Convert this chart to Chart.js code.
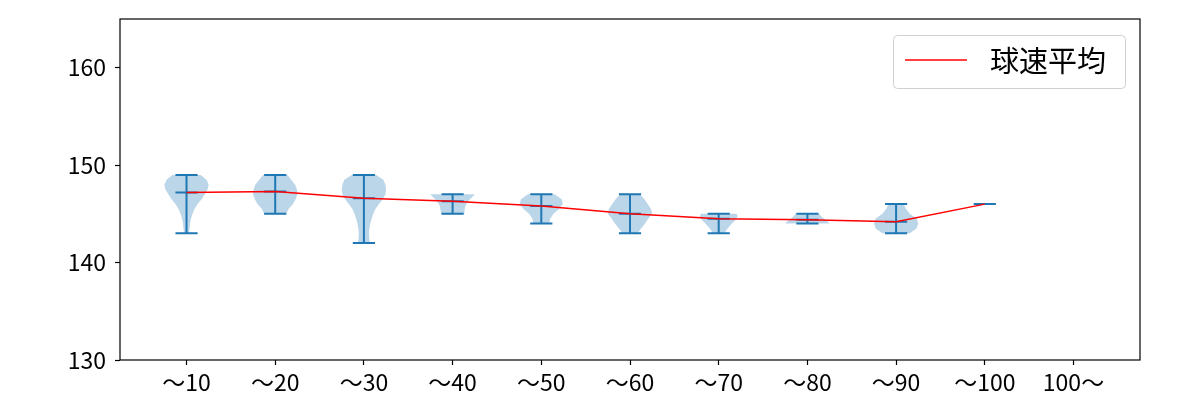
<!DOCTYPE html>
<html>
<head>
<meta charset="utf-8">
<script src="https://cdn.jsdelivr.net/npm/chart.js@4/dist/chart.umd.min.js"></script>
<style>
  body { margin: 0; background: #fff; }
</style>
</head>
<body>
<canvas id="grafico" width="1200" height="400"></canvas>
<script>
const categorias = ['〜10', '〜20', '〜30', '〜40', '〜50', '〜60', '〜70', '〜80', '〜90', '〜100', '100〜'];
const medias = [147.2, 147.3, 146.6, 146.3, 145.8, 145.0, 144.5, 144.4, 144.2, 146.0, null];
const minimos = [143, 145, 142, 145, 144, 143, 143, 144, 143, 146, null];
const maximos = [149, 149, 149, 147, 147, 147, 145, 145, 146, 146, null];
// violin widths, spread evenly from min to max (1 = widest)
const larguras = [
    [0.11, 0.14, 0.16, 0.2, 0.27, 0.36, 0.5, 0.68, 0.82, 0.95, 1.0, 0.9, 0.64],
    [0.5, 0.6, 0.8, 0.92, 1.0, 0.98, 0.9, 0.72, 0.55],
    [0.27, 0.24, 0.23, 0.25, 0.29, 0.35, 0.42, 0.52, 0.68, 0.85, 0.97, 1.0, 0.97, 0.88, 0.55],
    [0.53, 0.53, 0.55, 0.57, 0.62, 0.7, 0.78, 0.9, 1.0],
    [0.36, 0.4, 0.55, 0.8, 0.97, 0.92, 0.6],
    [0.34, 0.5, 0.68, 0.82, 1.0, 0.95, 0.8, 0.65, 0.45],
    [0.28, 0.32, 0.4, 0.5, 0.6, 0.7, 0.8, 0.85, 0.8],
    [1.0, 0.9, 0.75, 0.62, 0.53],
    [0.62, 0.92, 1.0, 0.93, 0.62, 0.45, 0.34],
    [],
    [],
];
const yTicks = [130, 140, 150, 160];
const legenda = '球速平均';

const azul = '#1f77b4';

Chart.defaults.font.family = '"Noto Sans CJK JP", "Noto Sans", sans-serif';
Chart.defaults.color = '#000';

const violinos = {
    id: 'violinos',
    beforeDatasetsDraw(chart) {
        const { ctx, scales: { x, y } } = chart;
        const meia = 0.25, cap = 0.125;
        ctx.save();
        categorias.forEach((c, i) => {
            if (minimos[i] == null) return;
            const pos = i + 1;
            const cx = x.getPixelForValue(pos);
            const w = larguras[i];
            if (w.length > 1) {
                const passo = (maximos[i] - minimos[i]) / (w.length - 1);
                const pts = w.map((f, k) => ({
                    dx: x.getPixelForValue(pos + meia * f) - cx,
                    py: y.getPixelForValue(minimos[i] + k * passo)
                }));
                ctx.beginPath();
                pts.forEach((p, k) => k ? ctx.lineTo(cx + p.dx, p.py) : ctx.moveTo(cx + p.dx, p.py));
                for (let k = pts.length - 1; k >= 0; k--) ctx.lineTo(cx - pts[k].dx, pts[k].py);
                ctx.closePath();
                ctx.fillStyle = 'rgba(31,119,180,0.3)';
                ctx.fill();
            }
            const capW = x.getPixelForValue(pos + cap) - cx;
            ctx.strokeStyle = azul;
            ctx.lineWidth = 2;
            ctx.beginPath();
            [minimos[i], maximos[i], medias[i]].forEach(v => {
                const py = y.getPixelForValue(v);
                ctx.moveTo(cx - capW, py);
                ctx.lineTo(cx + capW, py);
            });
            ctx.moveTo(cx, y.getPixelForValue(minimos[i]));
            ctx.lineTo(cx, y.getPixelForValue(maximos[i]));
            ctx.stroke();
        });
        ctx.restore();
    },
    afterDraw(chart) {
        const { ctx, chartArea: a } = chart;
        ctx.save();
        ctx.strokeStyle = '#000';
        ctx.lineWidth = 1.2;
        ctx.strokeRect(a.left, a.top, a.right - a.left, a.bottom - a.top);

        // legend box
        const bx = 893.5, by = 35.5, bw = 232, bh = 53;
        ctx.beginPath();
        ctx.roundRect(bx, by, bw, bh, 4);
        ctx.fillStyle = 'rgba(255,255,255,0.8)';
        ctx.fill();
        ctx.strokeStyle = '#d0d0d0';
        ctx.lineWidth = 1;
        ctx.stroke();
        ctx.strokeStyle = 'red';
        ctx.lineWidth = 1.5;
        ctx.beginPath();
        ctx.moveTo(905, 60);
        ctx.lineTo(967, 60);
        ctx.stroke();
        ctx.fillStyle = '#000';
        ctx.font = '29px "Noto Sans CJK JP", sans-serif';
        ctx.textBaseline = 'middle';
        ctx.fillText(legenda, 990, 61);
        ctx.restore();
    }
};

new Chart(document.getElementById('grafico'), {
    type: 'line',
    data: {
        datasets: [{
            label: legenda,
            data: medias.map((v, i) => ({ x: i + 1, y: v })).filter(p => p.y != null),
            borderColor: 'red',
            borderWidth: 1.5,
            pointRadius: 0,
            tension: 0,
        }]
    },
    options: {
        responsive: false,
        animation: false,
        layout: { padding: { left: 0, right: 60, top: 19, bottom: 0 } },
        plugins: { legend: { display: false }, tooltip: { enabled: false } },
        scales: {
            x: {
                type: 'linear',
                min: 0.25,
                max: 11.75,
                afterBuildTicks: s => { s.ticks = categorias.map((_, i) => ({ value: i + 1 })); },
                afterFit: s => { s.height = 40; s.paddingLeft = 0; s.paddingRight = 0; },
                ticks: {
                    callback: v => categorias[v - 1],
                    font: { size: 23 },
                    padding: 3,
                    maxRotation: 0,
                    autoSkip: false,
                },
                grid: { drawOnChartArea: false, tickLength: 5, tickColor: '#000', tickWidth: 1.2 },
                border: { display: false },
            },
            y: {
                min: 130,
                max: 165,
                afterBuildTicks: s => { s.ticks = yTicks.map(v => ({ value: v })); },
                afterFit: s => { s.width = 120; s.paddingTop = 0; s.paddingBottom = 0; },
                ticks: { font: { size: 23 }, padding: 9 },
                grid: { drawOnChartArea: false, tickLength: 5, tickColor: '#000', tickWidth: 1.2 },
                border: { display: false },
            }
        }
    },
    plugins: [violinos]
});
</script>
</body>
</html>
